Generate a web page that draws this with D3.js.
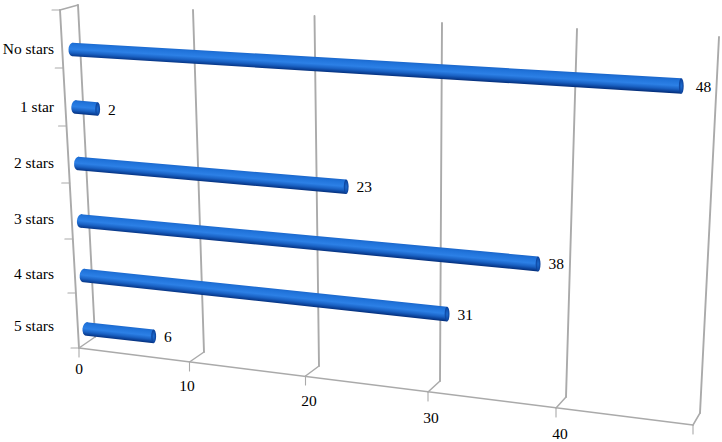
<!DOCTYPE html>
<html><head><meta charset="utf-8">
<script src="https://cdn.jsdelivr.net/npm/d3@7/dist/d3.min.js"></script>
<style>html,body{margin:0;padding:0;background:#fff}svg{display:block}text{font-family:"Liberation Serif","Times New Roman",serif;font-size:15.5px;fill:#000}</style>
</head><body><div id="c"></div>
<script>
const categories = ["No stars","1 star","2 stars","3 stars","4 stars","5 stars"];
const values = [48,2,23,38,31,6];
const valueTicks = [0,10,20,30,40,50];
const tickLabels = ["0","10","20","30","40"];

const W=722,H=442;
const svg=d3.select("#c").append("svg").attr("width",W).attr("height",H);
const defs=svg.append("defs");

// Perspective, expressed as piecewise scales over the value axis
const frontX=d3.scaleLinear().domain(valueTicks).range([79,189.5,305.5,428,556,693]);
const frontY=d3.scaleLinear().domain(valueTicks).range([348,362,376,392,408,425]);
const backBotX=d3.scaleLinear().domain(valueTicks).range([95,204,319,440,566,700]);
const backBotY=d3.scaleLinear().domain(valueTicks).range([337,352,366,381,397,413]);
const backTopX=d3.scaleLinear().domain(valueTicks).range([78,193,314.5,442,577,719]);
const backTopY=d3.scaleLinear().domain(valueTicks).range([5,10,16,23,29,37]);
const labelX=d3.scaleLinear().domain(valueTicks).range([79,187,309,431,560,700]);
const labelY=d3.scaleLinear().domain(valueTicks).range([369,386,401,418,434,450]);

// Category axis on the front-left edge
const rowEdges=d3.range(categories.length+1);
const axisY=d3.scaleLinear().domain(rowEdges).range([10,68,126,183,239,293,348]);
const axisX=d3.scaleLinear().domain([10,348]).range([60,79]);

const grid="#aaaaaa";
const seg=(g,x1,y1,x2,y2,w)=>g.append("line").attr("x1",x1).attr("y1",y1).attr("x2",x2).attr("y2",y2)
  .attr("stroke",grid).attr("stroke-width",w).attr("stroke-linecap","round");
const g=svg.append("g");

valueTicks.forEach(v=>{
  seg(g,backTopX(v),backTopY(v),backBotX(v),backBotY(v),1.9);
  seg(g,backBotX(v),backBotY(v),frontX(v),frontY(v),1.5);
  seg(g,frontX(v),frontY(v),frontX(v),frontY(v)+9,1.1);
});
seg(g,frontX(0),frontY(0),frontX(50),frontY(50),1.6);
seg(g,axisX(10),10,frontX(0),frontY(0),1.9);
seg(g,axisX(10),10,backTopX(0),backTopY(0),1.5);
rowEdges.forEach(i=>{
  const y=axisY(i),x=axisX(y);
  seg(g,x-8,y,x,y,1.1);
});

// Bars: each row's start point, slope and a shared value-to-length scale
const idx=d3.range(categories.length);
const rowX=d3.scaleLinear().domain([0,5]).range([72.5,86.5]);
const rowY=d3.scaleOrdinal().domain(idx).range([49.5,107,163.5,221,275.5,329]);
const rowSlope=d3.scaleOrdinal().domain(idx).range([0.06,0.09,0.087,0.094,0.106,0.108]);
const barLen=d3.scaleLinear().domain(valueTicks).range([0,112,233,350,484,640]);
const barThick=d3.scaleLinear().domain([0,50]).range([13.5,15.5]);
const labelGap=d3.scaleLinear().domain([0,38,48]).range([10.4,10.4,14.4]);

const bars=svg.append("g");
values.forEach((v,i)=>{
  const x0=rowX(i),y0=rowY(i),len=barLen(v),s=rowSlope(i);
  const x1=x0+len,y1=y0+len*s;
  const t0=barThick(0)/2,t1=barThick(v)/2;
  const mx=(x0+x1)/2,my=(y0+y1)/2,tm=(t0+t1)/2;
  const id="bar"+i;
  const lg=defs.append("linearGradient").attr("id",id).attr("gradientUnits","userSpaceOnUse")
    .attr("x1",mx+s*tm).attr("y1",my-tm).attr("x2",mx-s*tm).attr("y2",my+tm);
  [[0,"#1c68cc"],[.15,"#2073da"],[.48,"#2c80e6"],[.72,"#1a62c4"],[.9,"#0b4299"],[1,"#05307c"]]
    .forEach(d=>lg.append("stop").attr("offset",d[0]).attr("stop-color",d[1]));
  const rotate=Math.atan(s)*180/Math.PI;
  bars.append("ellipse").attr("cx",x0).attr("cy",y0).attr("rx",4).attr("ry",t0)
    .attr("transform",`rotate(${rotate} ${x0} ${y0})`).attr("fill",`url(#${id})`);
  bars.append("path").attr("d",d3.line()([[x0,y0-t0],[x1,y1-t1],[x1,y1+t1],[x0,y0+t0]])+"Z").attr("fill",`url(#${id})`);
  const capId="cap"+i;
  const rg=defs.append("radialGradient").attr("id",capId);
  rg.append("stop").attr("offset","0").attr("stop-color","#1e6ed2");
  rg.append("stop").attr("offset","1").attr("stop-color","#0a3f98");
  bars.append("ellipse").attr("cx",x1).attr("cy",y1).attr("rx",2.4).attr("ry",t1).attr("fill",`url(#${capId})`);
  svg.append("text").attr("x",x1+labelGap(v)).attr("y",y1+5.5).text(v);
});

// Category labels
const catLabelY=d3.scaleOrdinal().domain(categories).range([54,112,168,224,279,331]);
categories.forEach(c=>svg.append("text").attr("x",54).attr("y",catLabelY(c)).attr("text-anchor","end").text(c));

// Value-axis labels
tickLabels.forEach((t,i)=>svg.append("text").attr("x",labelX(valueTicks[i])).attr("y",labelY(valueTicks[i])+5).attr("text-anchor","middle").text(t));
</script></body></html>
